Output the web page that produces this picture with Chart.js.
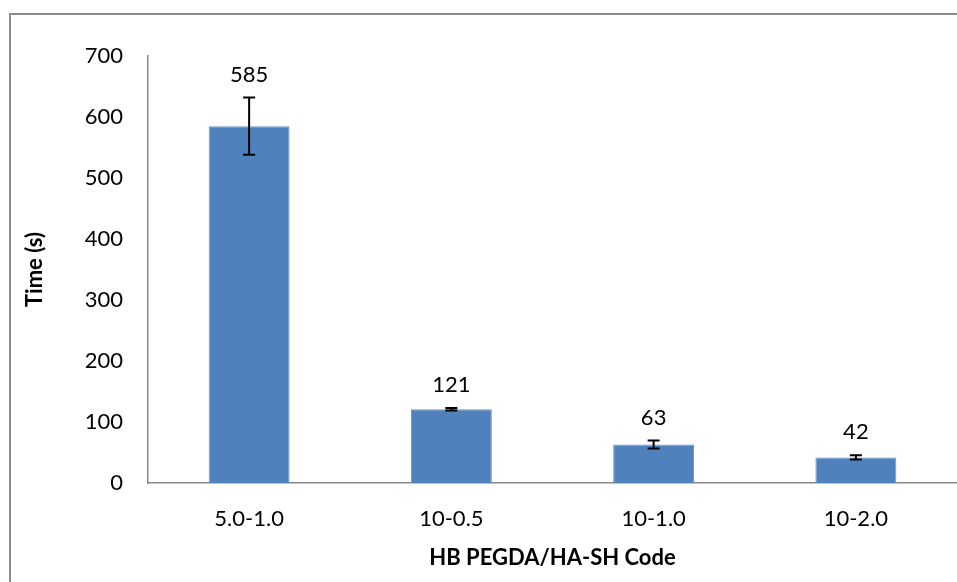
<!DOCTYPE html>
<html>
<head>
<meta charset="utf-8">
<script src="https://cdn.jsdelivr.net/npm/chart.js@4.4.0/dist/chart.umd.min.js"></script>
<style>
  html, body { margin: 0; padding: 0; background: #fff; }
  #wrap { width: 957px; height: 582px; position: relative; }
</style>
</head>
<body>
<div id="wrap"><canvas id="c" width="957" height="582"></canvas></div>
<script>
// data
const categories = ['5.0-1.0', '10-0.5', '10-1.0', '10-2.0'];
const times = [585, 121, 63, 42];
const errors = [47, 2, 6.5, 3.5];
const yTicks = [0, 100, 200, 300, 400, 500, 600, 700];

const FONT = "Lato, 'Open Sans', sans-serif";
const FS = 22;

// outer frame like the office chart border
const framePlugin = {
  id: 'frame',
  beforeDraw(chart) {
    const c = chart.ctx;
    c.save();
    c.fillStyle = '#fff';
    c.fillRect(0, 0, chart.width, chart.height);
    c.strokeStyle = '#8c8c8c';
    c.lineWidth = 2;
    c.beginPath();
    c.moveTo(10, chart.height);
    c.lineTo(10, 14);
    c.lineTo(chart.width, 14);
    c.stroke();
    c.restore();
  }
};

// error bars + value labels
const errPlugin = {
  id: 'errbars',
  afterDatasetsDraw(chart) {
    const c = chart.ctx;
    const y = chart.scales.y;
    const meta = chart.getDatasetMeta(0);
    c.save();
    meta.data.forEach((bar, i) => {
      const top = y.getPixelForValue(times[i] + errors[i]);
      const bot = y.getPixelForValue(times[i] - errors[i]);
      const x = bar.x;
      c.strokeStyle = '#000';
      c.lineWidth = 2;
      c.beginPath();
      c.moveTo(x, top); c.lineTo(x, bot);
      c.moveTo(x - 6, top); c.lineTo(x + 6, top);
      c.moveTo(x - 6, bot); c.lineTo(x + 6, bot);
      c.stroke();
      c.fillStyle = '#000';
      c.font = FS + 'px ' + FONT;
      c.textAlign = 'center';
      c.textBaseline = 'middle';
      c.fillText(String(times[i]), x, top - 23);
    });
    c.restore();
  }
};

new Chart(document.getElementById('c'), {
  type: 'bar',
  data: {
    labels: categories,
    datasets: [{
      data: times,
      backgroundColor: '#4f81bd',
      borderColor: '#6a95c9',
      borderWidth: 1,
      barPercentage: 0.4,
      categoryPercentage: 1
    }]
  },
  options: {
    responsive: false,
    animation: false,
    layout: { padding: { left: 0, right: 0, top: 56, bottom: 0 } },
    plugins: { legend: { display: false }, tooltip: { enabled: false } },
    scales: {
      x: {
        grid: { display: false, drawTicks: false },
        border: { color: '#888', width: 1.5 },
        ticks: { color: '#000', font: { family: FONT, size: FS }, padding: 23, maxRotation: 0 },
        title: { display: true, text: 'HB PEGDA/HA-SH Code', color: '#000',
                 font: { family: FONT, size: FS, weight: 'bold' }, padding: { top: 0, bottom: 11 } },
        afterFit(s) { s.height = 99; }
      },
      y: {
        min: 0, max: 700,
        afterBuildTicks(s) { s.ticks = yTicks.map(v => ({ value: v })); },
        grid: { display: false, drawTicks: false },
        border: { color: '#888', width: 1.5 },
        ticks: { color: '#000', font: { family: FONT, size: FS }, padding: 25 },
        title: { display: true, text: 'Time (s)', color: '#000',
                 font: { family: FONT, size: FS, weight: 'bold' }, padding: { top: 22, bottom: 0 } },
        afterFit(s) { s.width = 148; }
      }
    }
  },
  plugins: [framePlugin, errPlugin]
});
</script>
</body>
</html>
